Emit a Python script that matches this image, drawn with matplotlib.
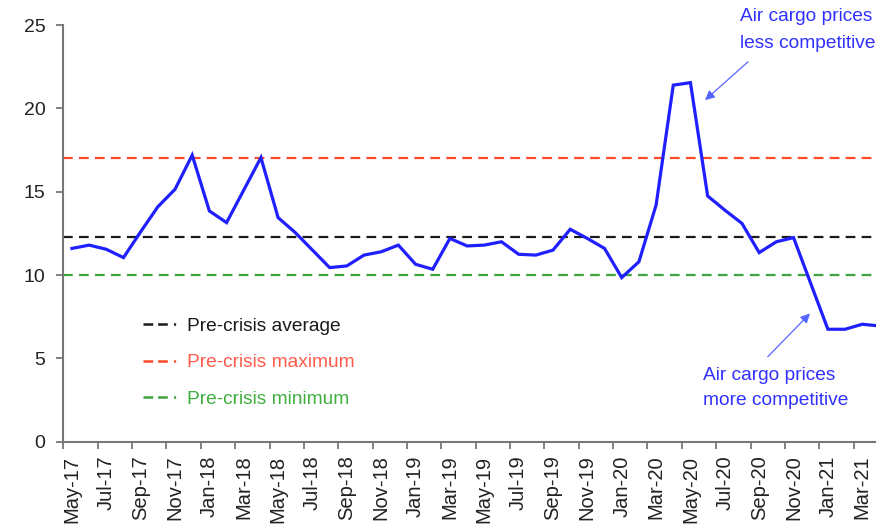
# Air cargo price competitiveness vs pre-crisis benchmarks, May-17 to Apr-21
import numpy as np
import pandas as pd
import matplotlib
matplotlib.use('Agg')
import matplotlib.pyplot as plt
from matplotlib.lines import Line2D

# monthly series, May-17 .. Apr-21
months = list(pd.date_range('2017-05-01', periods=48, freq='MS').strftime('%b-%y'))
values = [11.6, 11.8, 11.55, 11.05, 12.6, 14.1, 15.15, 17.2, 13.85, 13.15, 15.1, 17.05,
          13.45, 12.55, 11.5, 10.45, 10.55, 11.2, 11.4, 11.8, 10.65, 10.35, 12.2, 11.75,
          11.8, 12.0, 11.25, 11.2, 11.5, 12.75, 12.2, 11.6, 9.85, 10.8, 14.2, 21.4,
          21.55, 14.75, 13.9, 13.1, 11.35, 12.0, 12.25, 9.5, 6.75, 6.75, 7.05, 6.95]

# pre-crisis benchmarks
ref_labels = ['Pre-crisis average', 'Pre-crisis maximum', 'Pre-crisis minimum']
ref_values = [12.3, 17.0, 10.0]
ref_colors = ['#1a1a1a', '#ff4a2a', '#3fa33f']
ref_text_colors = ['#1a1a1a', '#ff5a4a', '#3fae3f']

y_ticks = [0, 5, 10, 15, 20, 25]

plt.rcParams['font.family'] = ['Liberation Sans', 'DejaVu Sans']
plt.rcParams['lines.scale_dashes'] = False

fig = plt.figure(figsize=(8.76, 5.24), dpi=100)
ax = fig.add_axes([0.0723, 0.157, 0.9277, 0.795])

x = np.arange(len(values))

# benchmark lines
for val, col in zip(ref_values, ref_colors):
    ax.axhline(val, color=col, linewidth=1.6, dashes=(7, 4.5), zorder=2)

# main series
ax.plot(x, values, color='#1f1fff', linewidth=2.3, zorder=3, solid_joinstyle='miter')

ax.set_yticks(y_ticks)

# ticks at category boundaries, labels at category centres
ax.set_xticks(np.arange(-0.5, 46.6, 2))
ax.set_xticklabels([])
ax.set_xticks(x[::2], minor=True)
ax.set_xticklabels(months[::2], minor=True, rotation=90, fontsize=14.5, color='#222222')
ax.tick_params(axis='x', which='major', length=5, width=1.3, color='#777777', direction='out')
ax.tick_params(axis='x', which='minor', length=0, pad=10)
ax.tick_params(axis='y', length=5, width=1.3, color='#777777', direction='out',
               labelsize=14, labelcolor='#222222', pad=8)

ax.set_xlim(-0.5, 46.8)
ax.set_ylim(0, 25)

for s in ['top', 'right']:
    ax.spines[s].set_visible(False)
for s in ['left', 'bottom']:
    ax.spines[s].set_color('#777777')
    ax.spines[s].set_linewidth(1.5)

# legend with "- - ." style handles
handles = [Line2D([0], [0], color=c, linewidth=1.8, dashes=(7, 3.5, 7, 4.5, 1.5, 50))
           for c in ref_colors]
leg = ax.legend(handles, ref_labels, loc='center left', bbox_to_anchor=(0.098, 0.19),
                frameon=False, fontsize=13.8, handlelength=2.05, handletextpad=0.25,
                labelspacing=1.0, borderpad=0, borderaxespad=0)
for txt, c in zip(leg.get_texts(), ref_text_colors):
    txt.set_color(c)

# annotations
ann_color = '#3030ff'
arrow_color = '#5566ff'
ax.text(38.9, 26.0, 'Air cargo prices\nless competitive', color=ann_color, fontsize=13.8,
        va='top', ha='left', linespacing=1.7, clip_on=False)
ax.annotate('', xy=(36.85, 20.5), xytext=(39.35, 22.8),
            arrowprops=dict(arrowstyle='-|>', color=arrow_color, lw=0.9, mutation_scale=14,
                            shrinkA=0, shrinkB=0))
ax.text(36.73, 4.5, 'Air cargo prices\nmore competitive', color=ann_color, fontsize=13.8,
        va='top', ha='left', linespacing=1.65)
ax.annotate('', xy=(42.96, 7.7), xytext=(40.5, 5.1),
            arrowprops=dict(arrowstyle='-|>', color=arrow_color, lw=0.9, mutation_scale=14,
                            shrinkA=0, shrinkB=0))

plt.savefig('out.png', dpi=100)
